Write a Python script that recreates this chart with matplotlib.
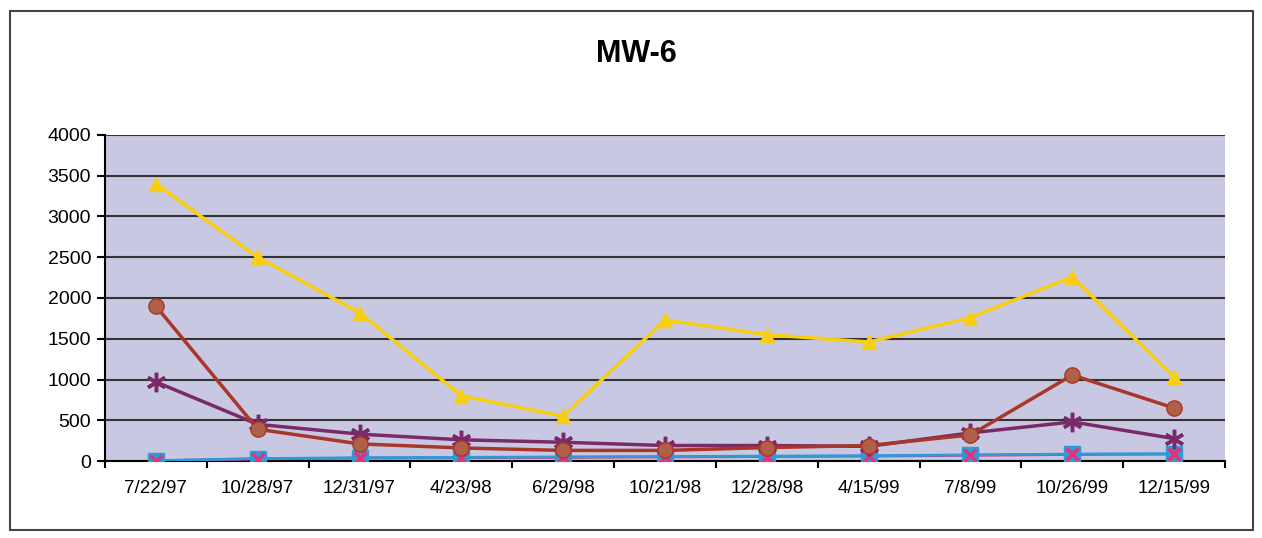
import matplotlib
matplotlib.use("Agg")
import matplotlib.pyplot as plt
import numpy as np

plt.rcParams['font.family'] = ['Liberation Sans', 'DejaVu Sans']

dates = ["7/22/97", "10/28/97", "12/31/97", "4/23/98", "6/29/98", "10/21/98",
         "12/28/98", "4/15/99", "7/8/99", "10/26/99", "12/15/99"]

yellow = [3400, 2500, 1820, 800, 550, 1730, 1550, 1460, 1760, 2260, 1030]
brown = [1900, 390, 210, 160, 130, 130, 165, 190, 320, 1055, 650]
purple = [970, 450, 330, 260, 230, 190, 190, 180, 345, 480, 275]
blue = [5, 30, 40, 45, 50, 55, 60, 65, 75, 85, 90]
pink = [3, 25, 35, 40, 45, 50, 55, 60, 70, 80, 85]

x = np.arange(len(dates))

fig = plt.figure(figsize=(12.62, 5.38), dpi=100)
ax = fig.add_axes([0.0832, 0.1431, 0.8875, 0.606])
ax.set_facecolor("#C8C8E2")

ax.plot(x, pink, color="#E8307A", lw=2, zorder=3)
ax.plot(x, blue, color="#2E9AD6", lw=2, marker="s", ms=11, mfc="#2E9AD6", mec="#2E9AD6", zorder=4)
ax.plot(x, pink, color="none", marker="x", ms=9, mew=2.5, mec="#E8307A", zorder=5)
ax.plot(x, purple, color="#7A2A68", lw=2.5, marker=(6, 2, 0), ms=14, mew=2.5, mec="#7A2A68", zorder=6)
ax.plot(x, brown, color="#A8372A", lw=2.5, marker="o", ms=11, mfc="#B06048", mec="#A8372A", zorder=7)
ax.plot(x, yellow, color="#F7CF10", lw=2.5, marker="^", ms=10, mfc="#F7CF10", mec="#F7CF10", zorder=8)

ax.set_xlim(-0.5, len(dates) - 0.5)
ax.set_ylim(0, 4000)
ax.set_yticks(np.arange(0, 4001, 500))
ax.set_xticks(x)
ax.set_xticklabels(dates, fontsize=13.5)
ax.set_xticks(np.arange(-0.5, len(dates), 1), minor=True)
ax.tick_params(axis="x", which="major", length=0, pad=14)
ax.tick_params(axis="x", which="minor", length=5, width=1.5, direction="out")
ax.tick_params(axis="y", labelsize=14, length=6, width=1.5, direction="out", pad=4)
ax.yaxis.grid(True, color="#333333", lw=1.5)
ax.set_axisbelow(True)
for s in ["top", "right"]:
    ax.spines[s].set_visible(False)
for s in ["left", "bottom"]:
    ax.spines[s].set_linewidth(1.5)

fig.text(0.504, 0.9, "MW-6", ha="center", va="center", fontsize=22, fontweight="bold")

border = plt.Rectangle((0.008, 0.015), 0.985, 0.965, transform=fig.transFigure,
                       fill=False, lw=1.5, ec="#444444")
fig.patches.append(border)

fig.savefig("out.png", dpi=100)
